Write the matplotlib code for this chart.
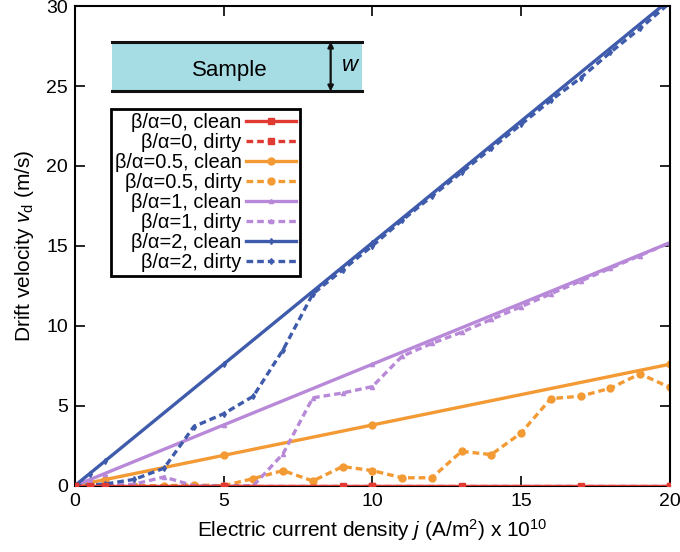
import numpy as np
import matplotlib
matplotlib.use("Agg")
import matplotlib.pyplot as plt
from matplotlib.patches import Rectangle

plt.rcParams['font.family'] = ['Liberation Sans', 'DejaVu Sans']
plt.rcParams['mathtext.fontset'] = 'custom'
plt.rcParams['mathtext.rm'] = 'Liberation Sans'
plt.rcParams['mathtext.it'] = 'Liberation Sans:italic'

# current density (x 1e10 A/m^2)
j_clean = [0, 0.5, 1, 5, 10, 20]
j_dirty = list(range(0, 21))

# clean samples: linear in j
v0_clean = [0, 0, 0, 0, 0, 0]
v05_clean = [0, 0.19, 0.38, 1.9, 3.8, 7.6]
v1_clean = [0, 0.38, 0.76, 3.8, 7.6, 15.2]
v2_clean = [0, 0.76, 1.52, 7.6, 15.2, 30.4]

# dirty samples
v0_dirty = [0] * 21
v05_dirty = [0, 0, 0, 0, 0.05, 0, 0.45, 0.95, 0.3, 1.2, 0.95,
             0.5, 0.5, 2.15, 1.95, 3.3, 5.45, 5.6, 6.1, 7.0, 6.15]
v1_dirty = [0, 0, 0.1, 0.55, 0, 0, 0, 2.0, 5.5, 5.8, 6.2,
            8.1, 8.9, 9.6, 10.4, 11.2, 12.0, 12.8, 13.6, 14.4, 15.2]
v2_dirty = [0, 0.1, 0.4, 1.1, 3.7, 4.5, 5.6, 8.5, 12.0, 13.5, 15.0,
            16.6, 18.1, 19.6, 21.1, 22.6, 24.1, 25.5, 27.1, 28.6, 30.2]

red = '#E03A33'
orange = '#F39A35'
purple = '#B889D8'
blue = '#3F5BAB'

fig = plt.figure(figsize=(6.8, 5.52), dpi=100)
ax = fig.add_axes([0.110, 0.120, 0.875, 0.869])

lw = 2.4
dash = (0, (2, 1.2))
ax.plot(j_clean, v0_clean, color=red, lw=lw, marker='s', ms=5,
        label='β/α=0, clean', zorder=6)
ax.plot(j_dirty, v0_dirty, color=red, lw=lw, ls=dash, marker='s', ms=5,
        markevery=[0, 5, 9, 10, 13, 17, 20], label='β/α=0, dirty', zorder=5)
ax.plot(j_clean, v05_clean, color=orange, lw=lw, marker='o', ms=5,
        label='β/α=0.5, clean')
ax.plot(j_dirty, v05_dirty, color=orange, lw=lw, ls=dash, marker='o', ms=5,
        label='β/α=0.5, dirty')
ax.plot(j_clean, v1_clean, color=purple, lw=lw, marker='^', ms=3,
        label='β/α=1, clean')
ax.plot(j_dirty, v1_dirty, color=purple, lw=lw, ls=dash, marker='^', ms=3,
        label='β/α=1, dirty')
ax.plot(j_clean, v2_clean, color=blue, lw=lw, marker='d', ms=3,
        label='β/α=2, clean')
ax.plot(j_dirty, v2_dirty, color=blue, lw=lw, ls=dash, marker='d', ms=3,
        label='β/α=2, dirty')

ax.set_xlim(0, 20)
ax.set_ylim(0, 30)
ax.set_xticks([0, 5, 10, 15, 20])
ax.set_yticks([0, 5, 10, 15, 20, 25, 30])
ax.tick_params(direction='in', length=7, width=1.2, top=True, right=True,
               labelsize=14, pad=5)
for s in ax.spines.values():
    s.set_linewidth(1.5)

ax.set_xlabel(r'Electric current density $j$ (A/m$^2$) x 10$^{10}$',
              fontsize=15, labelpad=5)
ax.set_ylabel(r'Drift velocity $v_{\rm d}$ (m/s)', fontsize=15, labelpad=7)

leg = ax.legend(loc='upper left', bbox_to_anchor=(0.0605, 0.785),
                markerfirst=False, fontsize=14.4, handlelength=2.5,
                handletextpad=0.2, labelspacing=0.05, borderpad=0.2,
                borderaxespad=0, fancybox=False, framealpha=1, edgecolor='black')
leg.get_frame().set_linewidth(2)

# sample sketch
ax.add_patch(Rectangle((0.062, 0.822), 0.42, 0.104, transform=ax.transAxes,
                       facecolor='#A6DCE4', edgecolor='none'))
ax.plot([0.062, 0.482], [0.926, 0.926], transform=ax.transAxes, color='#111111', lw=2.2)
ax.plot([0.062, 0.482], [0.822, 0.822], transform=ax.transAxes, color='#111111', lw=2.2)
ax.text(0.260, 0.866, 'Sample', transform=ax.transAxes, fontsize=16,
        ha='center', va='center')
ax.annotate('', xy=(0.430, 0.926), xytext=(0.430, 0.822), xycoords='axes fraction',
            arrowprops=dict(arrowstyle='<|-|>', color='#111111', lw=1.6,
                            mutation_scale=8, shrinkA=0, shrinkB=0))
ax.text(0.448, 0.876, r'$w$', transform=ax.transAxes, fontsize=16,
        ha='left', va='center')

fig.savefig('out.png', dpi=100)
